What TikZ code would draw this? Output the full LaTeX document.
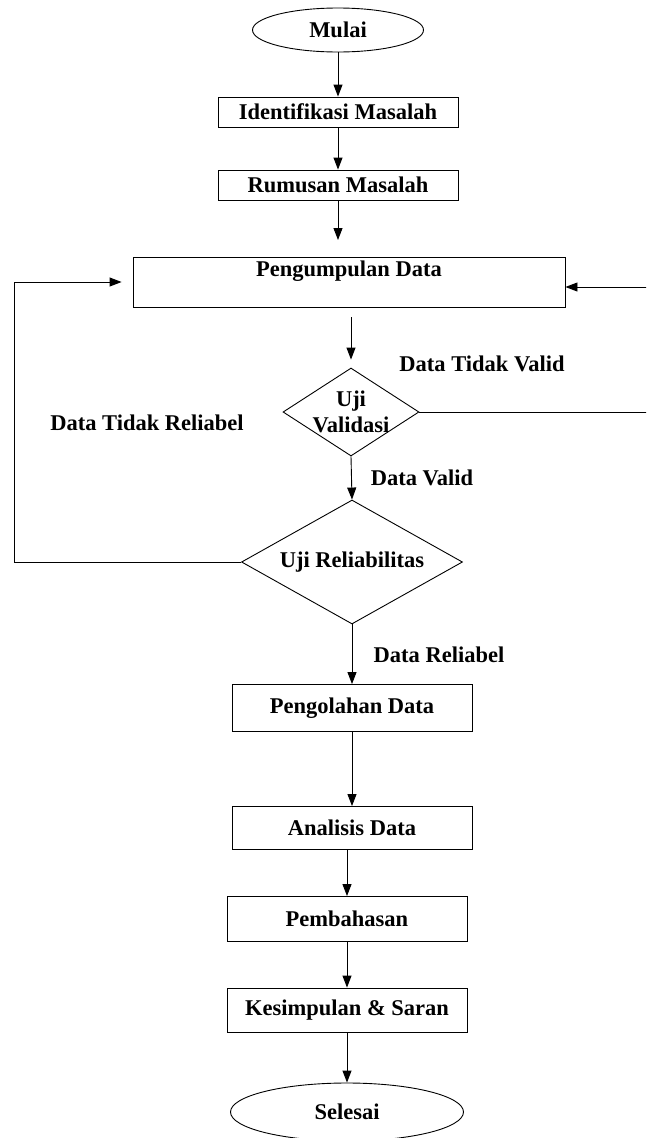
\documentclass[tikz,border=0pt]{standalone}
\usepackage{fontspec}
\setmainfont{Liberation Serif}
\usetikzlibrary{shapes.geometric, arrows.meta, positioning, calc}

\begin{document}
\begin{tikzpicture}[x=1pt, y=-1pt, >={Triangle[length=12pt,width=9pt]},
  font=\fontsize{22.5}{26}\selectfont\bfseries, line width=0.9pt,
  kotak/.style={draw, rectangle, minimum width=240pt, inner sep=2pt},
  oval/.style={draw, ellipse, inner sep=0pt},
  cek/.style={draw, diamond, inner sep=0pt},
  ket/.style={inner sep=0pt}]
  \clip (0,0) rectangle (646,1138);
  % Awal
  \node[oval, minimum width=171pt, minimum height=44pt] (mulai) at (338,30) {Mulai};
  \node[kotak, minimum height=30pt] (iden) at (338,112) {Identifikasi Masalah};
  \node[kotak, minimum height=30pt] (rumus) at (338,185) {Rumusan Masalah};
  \coordinate (r1) at (338,240);
  \draw[->] (mulai) -- (iden);
  \draw[->] (iden) -- (rumus);
  \draw[->] (rumus) -- (r1);
  % Pengumpulan data
  \node[kotak, minimum width=432pt, minimum height=50pt, align=center] (peng) at (349,282) {Pengumpulan Data\\\mbox{}};
  % Uji validasi
  \node[cek, minimum width=136pt, minimum height=88pt,
    label={[align=center]center:Uji\\Validasi}] (val) at (351,412) {};
  \draw[->, shorten <=10pt, shorten >=8pt] (peng.south -| val.north) -- (val.north);
  \draw[->] (val.east) -- (660,412) |- ([yshift=-5pt]peng.east);
  \node[ket] (tvalid) at (482,364) {Data Tidak Valid};
  % Uji reliabilitas
  \node[cek, minimum width=221pt, minimum height=124pt,
    label={center:Uji Reliabilitas}] (rel) at (352,562) {};
  \draw[->] (val.south) -- (rel.north);
  \node[ket] (dvalid) at (422,478) {Data Valid};
  \draw[->, shorten >=11pt] (rel.west) -- ++(-227,0) |- (peng.west);
  \node[ket] (treli) at (147,423) {Data Tidak Reliabel};
  % Pengolahan sampai selesai
  \node[kotak, minimum height=47pt] (olah) at (352,708) {Pengolahan Data};
  \draw[->] (rel.south) -- (olah.north);
  \node[ket] (dreli) at (439,655) {Data Reliabel};
  \node[kotak, minimum height=43pt] (anal) at (352,828) {Analisis Data};
  \node[kotak, minimum height=45pt] (bahas) at (347,919) {Pembahasan};
  \node[kotak, minimum height=44pt] (simpul) at (347,1010) {Kesimpulan \& Saran};
  \node[oval, minimum width=233pt, minimum height=58pt] (selesai) at (347,1112) {Selesai};
  \draw[->] (olah) -- (anal);
  \draw[->] (anal.south -| bahas.north) -- (bahas.north);
  \draw[->] (bahas) -- (simpul);
  \draw[->] (simpul) -- (selesai);
\end{tikzpicture}
\end{document}
